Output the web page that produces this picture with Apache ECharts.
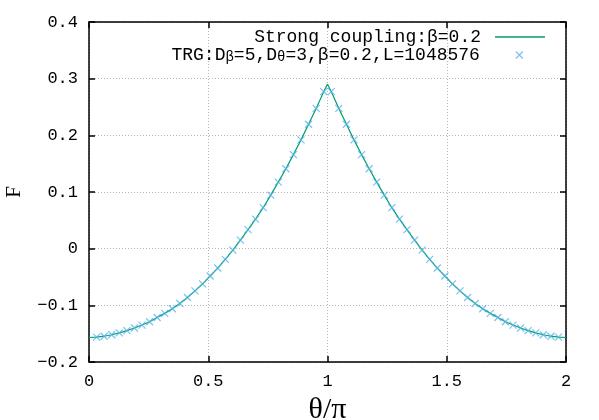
<!DOCTYPE html>
<html>
<head>
<meta charset="utf-8">
<script src="https://cdn.jsdelivr.net/npm/echarts@6/dist/echarts.min.js"></script>
<style>
html,body{margin:0;padding:0;background:#fff;}
#chart{width:599px;height:420px;}
</style>
</head>
<body>
<div id="chart"></div>
<script>
// TRG data points: theta/pi and F
const thetaTRG = [
  0.0317, 0.0635, 0.0952, 0.1270, 0.1587, 0.1905, 0.2222, 0.2540, 0.2857, 0.3175,
  0.3492, 0.3810, 0.4127, 0.4444, 0.4762, 0.5079, 0.5397, 0.5714, 0.6032, 0.6349,
  0.6667, 0.6984, 0.7302, 0.7619, 0.7937, 0.8254, 0.8571, 0.8889, 0.9206, 0.9524,
  0.9841, 1.0159, 1.0476, 1.0794, 1.1111, 1.1429, 1.1746, 1.2063, 1.2381, 1.2698,
  1.3016, 1.3333, 1.3651, 1.3968, 1.4286, 1.4603, 1.4921, 1.5238, 1.5556, 1.5873,
  1.6190, 1.6508, 1.6825, 1.7143, 1.7460, 1.7778, 1.8095, 1.8413, 1.8730, 1.9048,
  1.9365, 1.9683
];
const fTRG = [
  -0.1562, -0.1545, -0.1519, -0.1486, -0.1446, -0.1400, -0.1348, -0.1290, -0.1215, -0.1142,
  -0.1060, -0.0968, -0.0862, -0.0745, -0.0620, -0.0483, -0.0342, -0.0190, -0.0025, 0.0152,
  0.0335, 0.0522, 0.0723, 0.0945, 0.1175, 0.1410, 0.1660, 0.1920, 0.2195, 0.2475,
  0.2770, 0.2770, 0.2475, 0.2195, 0.1920, 0.1660, 0.1410, 0.1175, 0.0945, 0.0723,
  0.0522, 0.0335, 0.0152, -0.0025, -0.0190, -0.0342, -0.0483, -0.0620, -0.0745, -0.0862,
  -0.0968, -0.1060, -0.1142, -0.1215, -0.1290, -0.1348, -0.1400, -0.1446, -0.1486, -0.1519,
  -0.1545, -0.1562
];
// Strong coupling curve: theta/pi and F
const thetaStrong = [
  0.0000, 0.0317, 0.0635, 0.0952, 0.1270, 0.1587, 0.1905, 0.2222, 0.2540, 0.2857, 0.3175,
  0.3492, 0.3810, 0.4127, 0.4444, 0.4762, 0.5079, 0.5397, 0.5714, 0.6032, 0.6349,
  0.6667, 0.6984, 0.7302, 0.7619, 0.7937, 0.8254, 0.8571, 0.8889, 0.9206, 0.9524,
  0.9841, 1.0000, 1.0159, 1.0476, 1.0794, 1.1111, 1.1429, 1.1746, 1.2063, 1.2381, 1.2698,
  1.3016, 1.3333, 1.3651, 1.3968, 1.4286, 1.4603, 1.4921, 1.5238, 1.5556, 1.5873,
  1.6190, 1.6508, 1.6825, 1.7143, 1.7460, 1.7778, 1.8095, 1.8413, 1.8730, 1.9048,
  1.9365, 1.9683, 2.0000
];
const fStrong = [
  -0.1568, -0.1562, -0.1545, -0.1519, -0.1486, -0.1446, -0.1400, -0.1348, -0.1290, -0.1215, -0.1142,
  -0.1060, -0.0968, -0.0862, -0.0745, -0.0620, -0.0483, -0.0342, -0.0190, -0.0025, 0.0152,
  0.0335, 0.0522, 0.0723, 0.0945, 0.1175, 0.1410, 0.1660, 0.1920, 0.2195, 0.2475,
  0.2770, 0.2900, 0.2770, 0.2475, 0.2195, 0.1920, 0.1660, 0.1410, 0.1175, 0.0945, 0.0723,
  0.0522, 0.0335, 0.0152, -0.0025, -0.0190, -0.0342, -0.0483, -0.0620, -0.0745, -0.0862,
  -0.0968, -0.1060, -0.1142, -0.1215, -0.1290, -0.1348, -0.1400, -0.1446, -0.1486, -0.1519,
  -0.1545, -0.1562, -0.1568
];
const xTicks = ['0', '0.5', '1', '1.5', '2'];
const yTicks = ['−0.2', '−0.1', '0', '0.1', '0.2', '0.3', '0.4'];
const nameStrong = 'Strong coupling:β=0.2';
const nameTRG = 'TRG';

const mono = 'Liberation Mono';
const serif = 'Liberation Serif';
const crossPath = 'path://M0 0L10 10M10 0L0 10';
const axisLineStyle = { color: '#000', width: 1.5 };
const gridLine = { show: true, lineStyle: { color: '#b4b4b4', type: [1, 2], width: 1 } };

const chart = echarts.init(document.getElementById('chart'), null, { renderer: 'canvas' });
chart.setOption({
  backgroundColor: '#fff',
  animation: false,
  grid: { left: 89, top: 22, right: 33, bottom: 58, containLabel: false, outerBoundsMode: 'none' },
  legend: [
    {
      data: [{ name: nameStrong, icon: 'rect' }], right: 49, top: 23, align: 'right',
      itemWidth: 50, itemHeight: 1.3, selectedMode: false,
      textStyle: { fontFamily: mono, fontSize: 18, color: '#000', padding: [0, 9, 0, 0] }
    },
    {
      data: [{ name: nameTRG, icon: crossPath }], right: 70.5, top: 36, align: 'right',
      itemWidth: 7, itemHeight: 7, selectedMode: false,
      itemStyle: { color: 'rgba(0,0,0,0)', borderColor: '#56b4e9', borderWidth: 1.2 },
      formatter: function () {
        return '{t|TRG:D}{s|β}{t|=5,D}{s|θ}{t|=3,β=0.2,L=1048576}';
      },
      textStyle: {
        fontFamily: mono, fontSize: 18, color: '#000', padding: [0, 31, 0, 0],
        rich: {
          t: { fontFamily: mono, fontSize: 18, color: '#000', lineHeight: 18, verticalAlign: 'top' },
          s: { fontFamily: mono, fontSize: 14, color: '#000', lineHeight: 14, padding: [9, 0, 0, 0], verticalAlign: 'bottom' }
        }
      }
    }
  ],
  xAxis: [
    {
      type: 'value', min: 0, max: 2, interval: 0.5, position: 'bottom',
      axisLine: { show: true, onZero: false, lineStyle: axisLineStyle },
      axisTick: { show: true, inside: true, length: 6, lineStyle: axisLineStyle },
      axisLabel: {
        show: true, margin: 11, fontFamily: mono, fontSize: 17, color: '#000',
        showMinLabel: true, showMaxLabel: true,
        formatter: function (v) { return xTicks[Math.round(v / 0.5)]; }
      },
      splitLine: gridLine,
      name: 'θ/π', nameLocation: 'middle', nameGap: 21,
      nameTextStyle: { fontFamily: serif, fontSize: 30, color: '#000' }
    },
    {
      type: 'value', min: 0, max: 2, interval: 0.5, position: 'top',
      axisLine: { show: true, onZero: false, lineStyle: axisLineStyle },
      axisTick: { show: true, inside: true, length: 6, lineStyle: axisLineStyle },
      axisLabel: { show: false }, splitLine: { show: false }
    }
  ],
  yAxis: [
    {
      type: 'value', min: -0.2, max: 0.4, interval: 0.1, position: 'left',
      axisLine: { show: true, onZero: false, lineStyle: axisLineStyle },
      axisTick: { show: true, inside: true, length: 6, lineStyle: axisLineStyle },
      axisLabel: {
        show: true, margin: 11, fontFamily: mono, fontSize: 17, color: '#000',
        showMinLabel: true, showMaxLabel: true,
        formatter: function (v) { return yTicks[Math.round((v + 0.2) / 0.1)]; }
      },
      splitLine: gridLine,
      name: 'F', nameLocation: 'middle', nameGap: 64, nameRotate: 90,
      nameTextStyle: { fontFamily: serif, fontSize: 21, color: '#000' }
    },
    {
      type: 'value', min: -0.2, max: 0.4, interval: 0.1, position: 'right',
      axisLine: { show: true, onZero: false, lineStyle: axisLineStyle },
      axisTick: { show: true, inside: true, length: 6, lineStyle: axisLineStyle },
      axisLabel: { show: false }, splitLine: { show: false }
    }
  ],
  series: [
    {
      name: nameStrong, type: 'line', xAxisIndex: 0, yAxisIndex: 0,
      data: thetaStrong.map((t, i) => [t, fStrong[i]]),
      symbol: 'none', smooth: false,
      lineStyle: { color: '#009e73', width: 1.2 },
      itemStyle: { color: '#009e73' },
      emphasis: { disabled: true }, z: 2
    },
    {
      name: nameTRG, type: 'scatter', xAxisIndex: 0, yAxisIndex: 0,
      data: thetaTRG.map((t, i) => [t, fTRG[i]]),
      symbol: crossPath, symbolSize: 7,
      itemStyle: { color: 'rgba(0,0,0,0)', borderColor: '#56b4e9', borderWidth: 1.2 },
      emphasis: { disabled: true }, z: 3
    }
  ]
});
</script>
</body>
</html>
